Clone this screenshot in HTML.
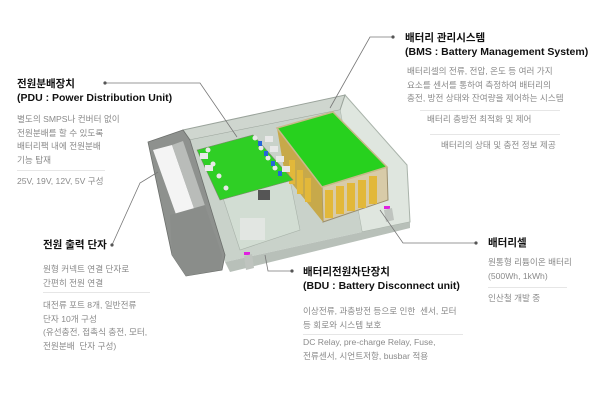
<!DOCTYPE html>
<html><head><meta charset="utf-8">
<style>
html,body{margin:0;padding:0;background:#fff;}
#c{position:relative;width:600px;height:400px;overflow:hidden;background:#fff;font-family:"Liberation Sans","Noto Sans CJK KR",sans-serif;}
.t{position:absolute;font-weight:bold;font-size:10.5px;line-height:14px;color:#111;white-space:nowrap;}
.b{position:absolute;font-size:8.6px;line-height:13.6px;color:#8a8a8a;white-space:nowrap;}
.s{position:absolute;height:1px;background:#e6e6e6;}
svg{position:absolute;left:0;top:0;}
</style></head><body><div id="c">
<svg width="600" height="400" viewBox="0 0 600 400">
<!-- right side wall -->
<polygon points="345,95 407,165 410,222 362,232 340,110" fill="#dfe6df" stroke="#a9b3aa" stroke-width="1"/>
<!-- back wall -->
<polygon points="183,130 345,95 340,110 190,140" fill="#cfd6cf" stroke="#9aa39b" stroke-width="1"/>
<!-- floor -->
<polygon points="190,140 340,110 362,232 225,262" fill="#c9d2ca"/>
<polygon points="225,262 362,232 410,222 410,228 230,272" fill="#b8c0b9"/>
<!-- bdu block -->
<polygon points="222,195 290,180 300,230 240,250" fill="#d2ddd3" stroke="#a8b2a9" stroke-width="0.6"/>
<rect x="258" y="190" width="12" height="10" fill="#555"/>
<rect x="240" y="218" width="25" height="22" fill="#e2e6e2"/>
<!-- battery pack -->
<polygon points="322,187 387,167 388,200 323,222" fill="#d8cba8" stroke="#9b8e6d" stroke-width="1"/>
<polygon points="277,128 322,187 323,222 285,175" fill="#c7a94a"/>
<g fill="#e2b83a">
<rect x="325" y="190" width="8" height="28"/><rect x="336" y="186" width="8" height="28"/>
<rect x="347" y="183" width="8" height="28"/><rect x="358" y="180" width="8" height="28"/>
<rect x="369" y="176" width="8" height="28"/>
<rect x="289" y="160" width="6" height="24"/><rect x="297" y="170" width="6" height="24"/><rect x="305" y="178" width="6" height="24"/>
</g>
<!-- BMS board -->
<polygon points="277,128 333,112 387,167 322,187" fill="#27d11e" stroke="#c9b98a" stroke-width="1.5"/>
<!-- PDU board -->
<polygon points="197,150 253,135 293,180 220,200" fill="#2fcf25" stroke="#7a8a6a" stroke-width="0.6"/>
<g fill="#e8e8e8">
<circle cx="208" cy="150" r="2.5"/><circle cx="213" cy="164" r="2.5"/><circle cx="219" cy="176" r="2.5"/><circle cx="226" cy="188" r="2.5"/>
<circle cx="255" cy="138" r="2.5"/><circle cx="261" cy="148" r="2.5"/><circle cx="268" cy="158" r="2.5"/><circle cx="275" cy="168" r="2.5"/>
<rect x="200" y="153" width="8" height="6"/><rect x="205" y="165" width="8" height="6"/>
<rect x="265" y="136" width="8" height="6"/><rect x="270" y="146" width="8" height="6"/><rect x="276" y="156" width="8" height="6"/><rect x="282" y="166" width="8" height="6"/>
</g>
<g fill="#2566d8"><rect x="258" y="141" width="4" height="5"/><rect x="264" y="151" width="4" height="5"/><rect x="271" y="161" width="4" height="5"/><rect x="278" y="171" width="4" height="5"/></g>
<!-- left gray end cap -->
<polygon points="148,142 183,130 190,140 225,255 222,270 186,276 172,255" fill="#8e918e" stroke="#6d706d" stroke-width="0.8"/>
<polygon points="153,150 172,145 205,240 188,248" fill="#f4f4f4"/>
<polygon points="172,145 183,141 215,235 205,240" fill="#b9bcb9"/>
<polygon points="170,215 205,205 222,255 220,270 186,276 172,255" fill="#8a8d8a"/>
<!-- brackets -->
<rect x="244" y="252" width="6" height="3" fill="#e020e0"/>
<polygon points="244,256 252,254 254,268 246,270" fill="#bfc4bf"/>
<rect x="384" y="206" width="6" height="3" fill="#e020e0"/>
<polygon points="384,210 392,208 394,220 386,222" fill="#bfc4bf"/>
<!-- leader lines -->
<g fill="none" stroke="#777" stroke-width="0.8">
<polyline points="105,83 200,83 237,137"/>
<polyline points="393,37 370,37 330,108"/>
<polyline points="112,245 140,183 158,172"/>
<polyline points="265,255 268,271 292,271"/>
<polyline points="380,210 403,243 476,243"/>
</g>
<g fill="#555"><circle cx="105" cy="83" r="1.6"/><circle cx="393" cy="37" r="1.6"/><circle cx="112" cy="245" r="1.6"/><circle cx="292" cy="271" r="1.6"/><circle cx="476" cy="243" r="1.6"/></g>
</svg>

<div class="t" style="left:17px;top:77px">전원분배장치<br>(PDU : Power Distribution Unit)</div>
<div class="b" style="left:17px;top:113px">별도의 SMPS나 컨버터 없이<br>전원분배를 할 수 있도록<br>배터리팩 내에 전원분배<br>기능 탑재</div>
<div class="s" style="left:17px;top:170px;width:88px"></div>
<div class="b" style="left:17px;top:175px">25V, 19V, 12V, 5V 구성</div>

<div class="t" style="left:405px;top:31px">배터리 관리시스템<br>(BMS : Battery Management System)</div>
<div class="b" style="left:407px;top:65px">배터리셀의 전류, 전압, 온도 등 여러 가지<br>요소를 센서를 통하여 측정하여 배터리의<br>충전, 방전 상태와 잔여량을 제어하는 시스템</div>
<div class="s" style="left:420px;top:110px;width:140px"></div>
<div class="b" style="left:427px;top:113px">배터리 충방전 최적화 및 제어</div>
<div class="s" style="left:430px;top:134px;width:130px"></div>
<div class="b" style="left:441px;top:139px">배터리의 상태 및 충전 정보 제공</div>

<div class="t" style="left:43px;top:238px">전원 출력 단자</div>
<div class="b" style="left:43px;top:263px">원형 커넥트 연결 단자로<br>간편히 전원 연결</div>
<div class="s" style="left:43px;top:292px;width:107px"></div>
<div class="b" style="left:43px;top:299px">대전류 포트 8개, 일반전류<br>단자 10개 구성<br>(유선충전, 접촉식 충전, 모터,<br>전원분배 &nbsp;단자 구성)</div>

<div class="t" style="left:303px;top:265px">배터리전원차단장치<br>(BDU : Battery Disconnect unit)</div>
<div class="b" style="left:303px;top:305px">이상전류, 과충방전 등으로 인한 &nbsp;센서, 모터<br>등 회로와 시스템 보호</div>
<div class="s" style="left:303px;top:334px;width:160px"></div>
<div class="b" style="left:303px;top:336px">DC Relay, pre-charge Relay, Fuse,<br>전류센서, 시언트저항, busbar 적용</div>

<div class="t" style="left:488px;top:236px">배터리셀</div>
<div class="b" style="left:488px;top:256px">원통형 리튬이온 배터리<br>(500Wh, 1kWh)</div>
<div class="s" style="left:488px;top:287px;width:79px"></div>
<div class="b" style="left:488px;top:292px">인산철 개발 중</div>
</div></body></html>
